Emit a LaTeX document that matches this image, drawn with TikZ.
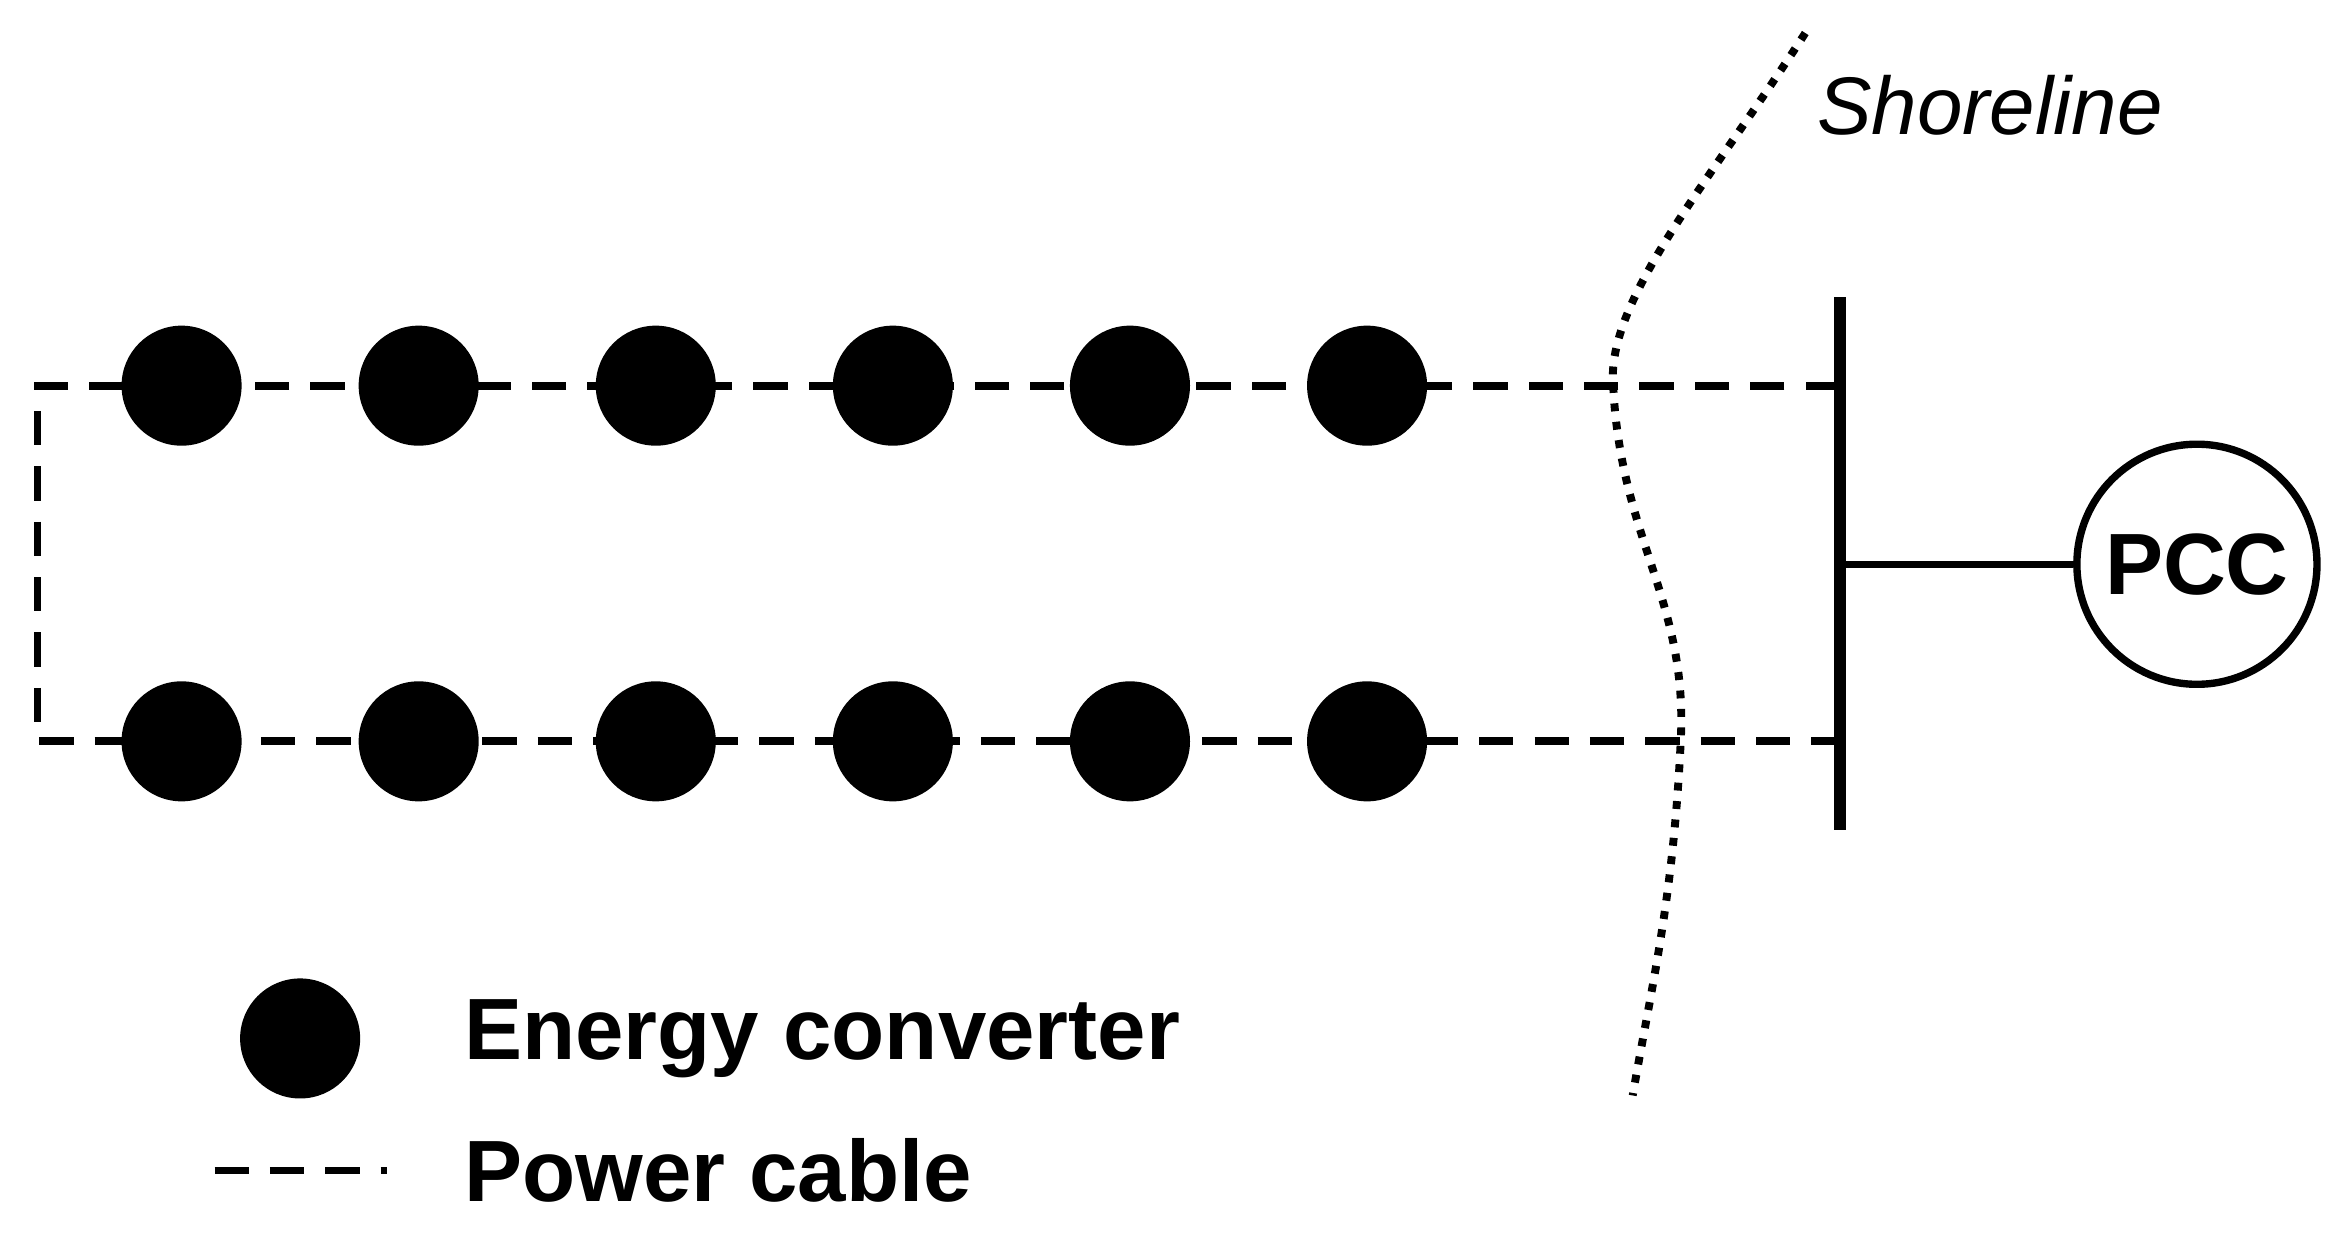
\documentclass[tikz,border=0pt]{standalone}
\usepackage{fontspec}
\setmainfont{Liberation Sans}
\usetikzlibrary{backgrounds}
\tikzset{
  converter/.style={circle, fill=black, minimum size=0.8cm, inner sep=0pt},
  cable/.style={dashed, dash pattern=on 6.5pt off 4pt, line width=1.5pt},
  label/.style={font=\fontsize{16.5}{19}\selectfont\bfseries, anchor=west}
}
\begin{document}
\begin{tikzpicture}[x=0.1mm, y=-0.1mm]
  \useasboundingbox (0,0) rectangle (1562,827);
  % converters
  \foreach \i/\x in {1/121,2/279,3/437,4/595,5/753,6/911}{
    \node[converter] (t\i) at (\x,257) {};
    \node[converter] (b\i) at (\x,494) {};
  }
  \coordinate (tl) at (25,257);
  \coordinate (bl) at (25,494);
  \coordinate (bustop) at (1226,198);
  \coordinate (busbot) at (1226,553);
  \coordinate (tbus) at (1226,257);
  \coordinate (bbus) at (1226,494);
  \coordinate (mbus) at (1226,376);
  \node[circle, draw, line width=1.4pt, minimum size=1.6cm, inner sep=0pt,
    font=\fontsize{16.5}{19}\selectfont\bfseries] (pcc) at (1464,376) {PCC};
  \begin{scope}[on background layer]
    \draw[cable] (tbus) -- (tl) -- (bl) -- (bbus);
  \end{scope}
  \draw[line width=2.3pt] (bustop) -- (busbot);
  \draw[line width=1.3pt] (mbus) -- (pcc);
  % shoreline
  \draw[dotted, line width=1.5pt] (1203,22) .. controls (1140,120) and (1070,200) .. (1075,257)
    .. controls (1080,360) and (1125,400) .. (1120,494)
    .. controls (1115,600) and (1100,660) .. (1088,730);
  \node[font=\fontsize{15.5}{18}\selectfont\itshape] (shore) at (1326,70) {Shoreline};
  % legend
  \node[converter] (lconv) at (200,692) {};
  \node[label] (lconvtxt) at (297,692) {Energy converter};
  \coordinate (lcab1) at (143,780);
  \coordinate (lcab2) at (258,780);
  \draw[cable] (lcab1) -- (lcab2);
  \node[label] (lcabtxt) at (297,780) {Power cable};
\end{tikzpicture}
\end{document}
